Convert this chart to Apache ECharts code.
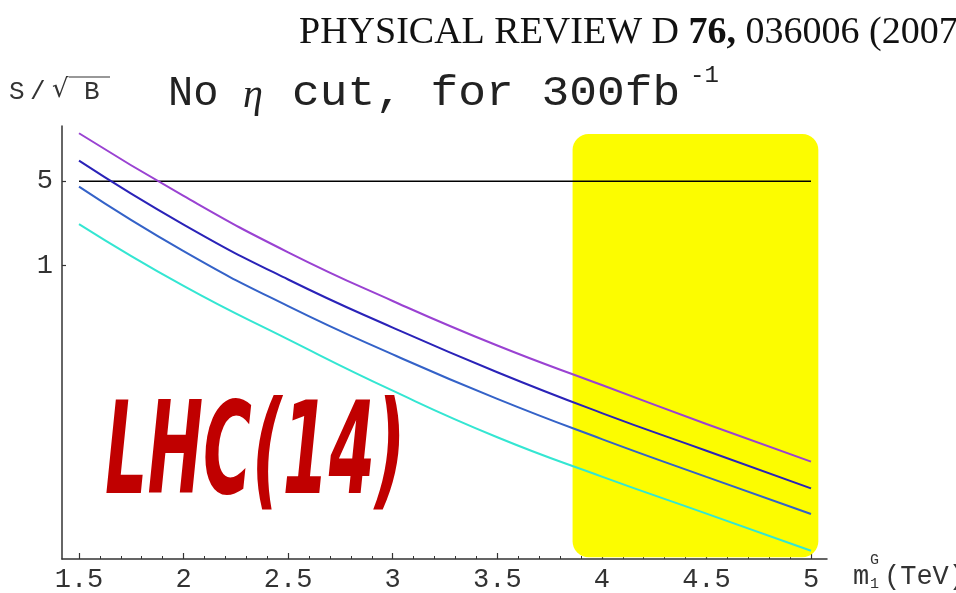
<!DOCTYPE html>
<html><head><meta charset="utf-8">
<script src="https://cdn.jsdelivr.net/npm/echarts@6/dist/echarts.min.js"></script>
<style>html,body{margin:0;padding:0;background:#fff}#c{width:956px;height:593px}</style>
</head><body><div id="c"></div>
<script>
// ---- data ----
const masses = [1.5, 2, 2.5, 3, 3.5, 4, 4.5, 5];
const purpleValues   = [12.5, 3.78, 1.29, 0.51, 0.218, 0.1026, 0.0488, 0.0238];
const darkBlueValues = [7.41, 2.19, 0.768, 0.307, 0.131, 0.0601, 0.0293, 0.0143];
const blueValues     = [4.51, 1.318, 0.462, 0.184, 0.0788, 0.0366, 0.0178, 0.00876];
const cyanValues     = [2.21, 0.679, 0.245, 0.0921, 0.0379, 0.0179, 0.00883, 0.00435];
const xTickLabels = ['1.5', '2', '2.5', '3', '3.5', '4', '4.5', '5'];
const yTickValues = [1, 5];
const thresholdValue = 5;
const thresholdRange = [1.5, 5];
const yellowBandX = [3.86, 5.035];
const yellowBandY = [0.00385, 12.3];
const minorTickValues = [];
for (let k = 15; k <= 50; k++) minorTickValues.push(k / 10);

const lg = Math.log10;
const toSeries = vals => masses.map((m, i) => [m, lg(vals[i])]);
const mono = '"Liberation Mono", "DejaVu Sans Mono", monospace';

const chart = echarts.init(document.getElementById('c'), null, {renderer: 'canvas'});
const xRange = {min: 1.4187, max: 5.0765};
const option = {
  animation: false,
  backgroundColor: '#ffffff',
  grid: {left: 62, right: 129, top: 126, bottom: 34, containLabel: false},
  xAxis: [{
    type: 'value', min: xRange.min, max: xRange.max,
    axisLine: {show: true, onZero: false, lineStyle: {color: '#333', width: 1.5}},
    axisTick: {show: true, inside: true, length: 6, customValues: masses, lineStyle: {color: '#333', width: 1.2}},
    axisLabel: {show: true, customValues: masses, margin: 7,
      formatter: v => xTickLabels[masses.indexOf(Math.round(v * 10) / 10)] || '',
      fontFamily: mono, fontSize: 27, color: '#333'},
    splitLine: {show: false}
  }, {
    type: 'value', min: xRange.min, max: xRange.max, position: 'bottom',
    axisLine: {show: false, onZero: false},
    axisTick: {show: true, inside: true, length: 3, customValues: minorTickValues, lineStyle: {color: '#333', width: 1}},
    axisLabel: {show: false},
    splitLine: {show: false}
  }],
  yAxis: {
    type: 'value', min: -2.430, max: 1.157,
    axisLine: {show: true, onZero: false, lineStyle: {color: '#333', width: 1.5}},
    axisTick: {show: true, inside: true, length: 4, customValues: yTickValues.map(lg), lineStyle: {color: '#333', width: 1.2}},
    axisLabel: {show: true, customValues: yTickValues.map(lg), margin: 9,
      formatter: v => String(Math.round(Math.pow(10, v))),
      fontFamily: mono, fontSize: 27, color: '#333'},
    splitLine: {show: false}
  },
  series: [
    {
      type: 'custom', name: 'band', clip: false, z: 1,
      data: [[yellowBandX[0], lg(yellowBandY[0]), yellowBandX[1], lg(yellowBandY[1])]],
      encode: {x: [0, 2], y: [1, 3]},
      renderItem: (params, api) => {
        const p0 = api.coord([api.value(0), api.value(3)]);
        const p1 = api.coord([api.value(2), api.value(1)]);
        return {type: 'rect', shape: {x: p0[0], y: p0[1], width: p1[0] - p0[0], height: p1[1] - p0[1], r: 16},
          style: {fill: '#fcfc00'}};
      }
    },
    {type: 'line', name: 'threshold', z: 3, showSymbol: false,
     data: thresholdRange.map(x => [x, lg(thresholdValue)]),
     lineStyle: {color: '#000', width: 1.5}},
    {type: 'line', name: 'purple', z: 4, smooth: true, showSymbol: false, data: toSeries(purpleValues),
     lineStyle: {color: '#9a42d2', width: 2}},
    {type: 'line', name: 'darkblue', z: 4, smooth: true, showSymbol: false, data: toSeries(darkBlueValues),
     lineStyle: {color: '#2a22b8', width: 2}},
    {type: 'line', name: 'blue', z: 4, smooth: true, showSymbol: false, data: toSeries(blueValues),
     lineStyle: {color: '#3462c8', width: 2}},
    {type: 'line', name: 'cyan', z: 4, smooth: true, showSymbol: false, data: toSeries(cyanValues),
     lineStyle: {color: '#34e6d2', width: 2}}
  ],
  graphic: [
    {type: 'text', left: 299, top: 14, style: {
      text: '{n|PHYSICAL REVIEW D }{b|76,}{n| 036006 (2007)}',
      rich: {n: {font: '38px "Liberation Serif", serif', fill: '#111'}, b: {font: 'bold 38px "Liberation Serif", serif', fill: '#111'}}
    }},
    {type: 'text', x: 9, y: 92, style: {text: 'S', font: '26px ' + mono, fill: '#333', verticalAlign: 'middle'}},
    {type: 'text', x: 30, y: 92, style: {text: '/', font: '26px ' + mono, fill: '#333', verticalAlign: 'middle'}},
    {type: 'text', x: 52, y: 90, style: {text: '√', font: '26px "DejaVu Sans", sans-serif', fill: '#333', verticalAlign: 'middle'}},
    {type: 'text', x: 84, y: 92, style: {text: 'B', font: '26px ' + mono, fill: '#333', verticalAlign: 'middle'}},
    {type: 'line', shape: {x1: 69, y1: 77, x2: 110, y2: 77}, style: {stroke: '#333', lineWidth: 1.2}},
    {type: 'text', x: 168, y: 94, style: {text: 'No', font: '42px ' + mono, fill: '#222', verticalAlign: 'middle'}},
    {type: 'text', x: 243, y: 96, style: {text: 'η', font: 'italic 40px "Liberation Serif", serif', fill: '#222', verticalAlign: 'middle'}},
    {type: 'text', x: 292, y: 94, scaleX: 1.1, style: {text: 'cut, for 300fb', font: '42px ' + mono, fill: '#222', verticalAlign: 'middle'}},
    {type: 'text', x: 690, y: 76, style: {text: '-1', font: '24px ' + mono, fill: '#222', verticalAlign: 'middle'}},
    {type: 'text', x: 853, y: 577, style: {text: 'm', font: '27px ' + mono, fill: '#333', verticalAlign: 'middle'}},
    {type: 'text', x: 870, y: 560, style: {text: 'G', font: '15px ' + mono, fill: '#333', verticalAlign: 'middle'}},
    {type: 'text', x: 870, y: 584, style: {text: '1', font: '15px ' + mono, fill: '#333', verticalAlign: 'middle'}},
    {type: 'text', x: 884, y: 577, style: {text: '(TeV)', font: '27px ' + mono, fill: '#333', verticalAlign: 'middle'}},
    {type: 'text', x: 105, y: 460, scaleX: 0.52, originX: 0, originY: 0, z: 10, style: {
      text: 'LHC(14)', font: 'italic bold 128px "DejaVu Sans", sans-serif', fill: '#c00000', verticalAlign: 'middle'}}
  ]
};
chart.setOption(option);
</script>
</body></html>
